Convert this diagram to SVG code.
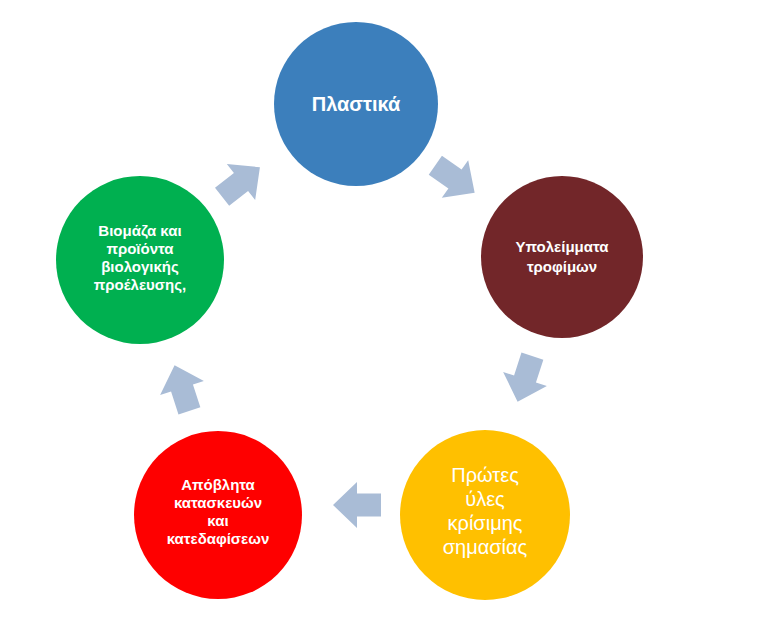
<svg xmlns="http://www.w3.org/2000/svg" width="769" height="619" viewBox="0 0 769 619">
<style>
.t{font-family:"Liberation Sans",Arial,sans-serif;fill:#fff;text-anchor:middle;font-weight:bold}
.a{fill:#a9bcd6}
</style>
<defs><path id="ar" d="M-24,-11.5 H0 V-23 L24,0 L0,23 V11.5 H-24 Z"/></defs>
<g id="connectors">
<use href="#ar" class="a" transform="translate(241,182) rotate(-38)"/>
<use href="#ar" class="a" transform="translate(455,179) rotate(35)"/>
<use href="#ar" class="a" transform="translate(525,379) rotate(108)"/>
<use href="#ar" class="a" transform="translate(357,505) rotate(180)"/>
<use href="#ar" class="a" transform="translate(182,388) rotate(-108)"/>
</g>
<g id="plastika"><circle cx="356" cy="104" r="82" fill="#3c7fbc"/><text class="t" x="356" y="111" font-size="20">Πλαστικά</text></g>
<g id="ypoleimmata"><circle cx="562" cy="257" r="81" fill="#722629"/><text class="t" font-size="15"><tspan x="562" y="252">Υπολείμματα</tspan><tspan x="562" y="272">τροφίμων</tspan></text></g>
<g id="protes"><circle cx="485" cy="515" r="85" fill="#ffc000"/><text class="t" font-size="20" font-weight="normal" style="font-weight:normal"><tspan x="485" y="482">Πρώτες</tspan><tspan x="485" y="506">ύλες</tspan><tspan x="485" y="530">κρίσιμης</tspan><tspan x="485" y="554">σημασίας</tspan></text></g>
<g id="apovlita"><circle cx="218" cy="515" r="84" fill="#fe0000"/><text class="t" font-size="15"><tspan x="218" y="490">Απόβλητα</tspan><tspan x="218" y="508">κατασκευών</tspan><tspan x="218" y="526">και</tspan><tspan x="218" y="544">κατεδαφίσεων</tspan></text></g>
<g id="biomaza"><circle cx="140" cy="260" r="84" fill="#00b050"/><text class="t" font-size="15"><tspan x="140" y="236">Βιομάζα και</tspan><tspan x="140" y="254">προϊόντα</tspan><tspan x="140" y="272">βιολογικής</tspan><tspan x="140" y="290">προέλευσης,</tspan></text></g>
</svg>
